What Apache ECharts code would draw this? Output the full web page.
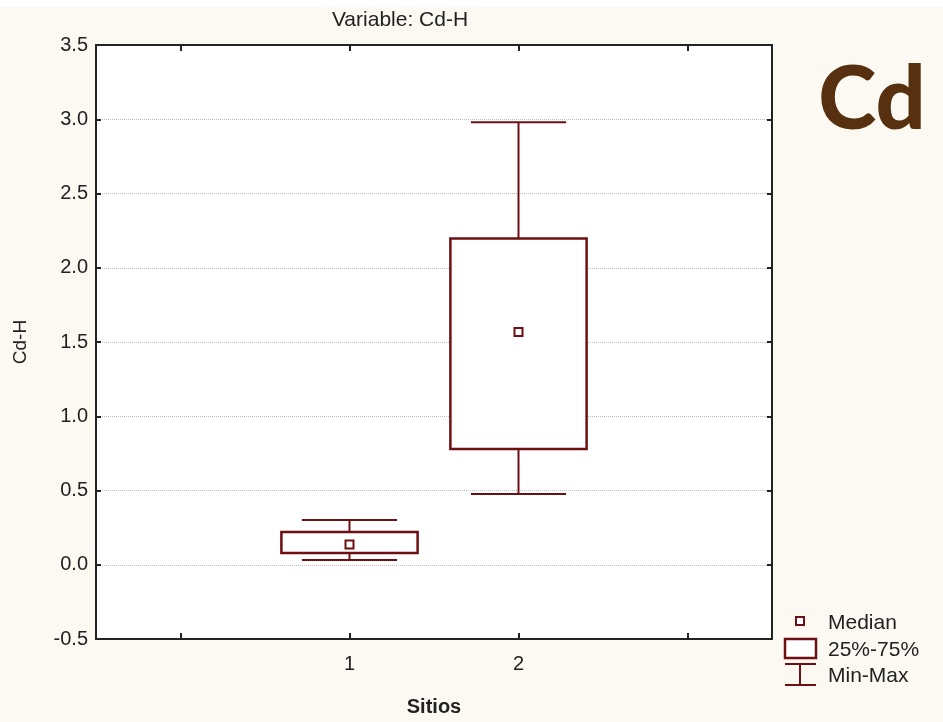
<!DOCTYPE html>
<html><head><meta charset="utf-8">
<script src="https://cdn.jsdelivr.net/npm/echarts@6/dist/echarts.min.js"></script>
<style>html,body{margin:0;padding:0;background:#fcf9f2}#c{width:943px;height:722px}</style>
</head><body><div id="c"></div>
<script>
// Categories on the x axis (outer empty slots pad the axis as in the original)
const categories = ['', '1', '2', ''];
const sites = ['1', '2'];
// Box-plot statistics per site (Cd-H)
const minVals = [0.032, 0.476];
const q1Vals = [0.079, 0.779];
const medianVals = [0.136, 1.567];
const q3Vals = [0.221, 2.197];
const maxVals = [0.301, 2.98];
// Y axis
const yMin = -0.5, yMax = 3.5, yStep = 0.5;

const C = '#6e0f14';
const FONT = 'Liberation Sans, Arial, sans-serif';

const boxData = sites.map((s, i) => [categories.indexOf(s), minVals[i], q1Vals[i], medianVals[i], q3Vals[i], maxVals[i]]);

function renderItem(params, api) {
  const x = api.value(0);
  const pMin = api.coord([x, api.value(1)]);
  const pQ1 = api.coord([x, api.value(2)]);
  const pMed = api.coord([x, api.value(3)]);
  const pQ3 = api.coord([x, api.value(4)]);
  const pMax = api.coord([x, api.value(5)]);
  const band = api.size([1, 0])[0];
  const bw = band * 0.806, cw = band * 0.563;
  const cx = pMin[0];
  const ls = {stroke: C, lineWidth: 2, fill: null};
  return {type: 'group', children: [
    {type: 'line', shape: {x1: cx, y1: pQ1[1], x2: cx, y2: pMin[1]}, style: ls},
    {type: 'line', shape: {x1: cx, y1: pQ3[1], x2: cx, y2: pMax[1]}, style: ls},
    {type: 'line', shape: {x1: cx - cw / 2, y1: pMin[1], x2: cx + cw / 2, y2: pMin[1]}, style: ls},
    {type: 'line', shape: {x1: cx - cw / 2, y1: pMax[1], x2: cx + cw / 2, y2: pMax[1]}, style: ls},
    {type: 'rect', shape: {x: cx - bw / 2, y: pQ3[1], width: bw, height: pQ1[1] - pQ3[1]}, style: {stroke: C, lineWidth: 2.5, fill: '#fff'}},
    {type: 'rect', shape: {x: cx - 4, y: pMed[1] - 4, width: 8, height: 8}, style: {stroke: C, lineWidth: 2, fill: '#fff'}}
  ]};
}

const axisLine = {show: true, onZero: false, lineStyle: {color: '#222', width: 2}};
const tickIn = {show: true, inside: true, alignWithLabel: true, length: 6, lineStyle: {color: '#222', width: 2}};

const chart = echarts.init(document.getElementById('c'));
chart.setOption({
  backgroundColor: '#fcf9f2',
  animation: false,
  grid: {left: 96, top: 45, right: 171, bottom: 83, show: true, backgroundColor: '#fff', borderWidth: 0},
  xAxis: [
    {type: 'category', data: categories, position: 'bottom', boundaryGap: true,
     axisLine: axisLine, axisTick: tickIn,
     axisLabel: {interval: 0, fontSize: 20, color: '#222', margin: 15, fontFamily: FONT},
     name: 'Sitios', nameLocation: 'middle', nameGap: 58,
     nameTextStyle: {fontWeight: 'bold', fontSize: 20, color: '#222', fontFamily: FONT},
     splitLine: {show: false}},
    {type: 'category', data: categories, position: 'top', boundaryGap: true,
     axisLine: axisLine, axisTick: tickIn, axisLabel: {show: false}, splitLine: {show: false}}
  ],
  yAxis: [
    {type: 'value', min: yMin, max: yMax, interval: yStep, position: 'left',
     axisLine: axisLine, axisTick: {show: true, inside: true, length: 5, lineStyle: {color: '#222', width: 2}},
     axisLabel: {fontSize: 20, color: '#222', margin: 8, fontFamily: FONT, formatter: v => v.toFixed(1)},
     splitLine: {show: true, lineStyle: {color: '#bbb', type: 'dotted', width: 1}},
     name: 'Cd-H', nameLocation: 'middle', nameGap: 66, nameRotate: 90,
     nameTextStyle: {fontSize: 19, color: '#222', fontFamily: FONT}},
    {type: 'value', min: yMin, max: yMax, interval: yStep, position: 'right',
     axisLine: axisLine, axisTick: {show: true, inside: true, length: 5, lineStyle: {color: '#222', width: 2}},
     axisLabel: {show: false}, splitLine: {show: false}}
  ],
  series: [{type: 'custom', renderItem: renderItem, data: boxData, xAxisIndex: 0, yAxisIndex: 0,
            encode: {x: 0, y: [1, 2, 3, 4, 5]}, clip: false, z: 5}],
  graphic: [
    {type: 'rect', left: 0, top: 0, shape: {width: 943, height: 7}, style: {fill: '#fff'}, silent: true},
    {type: 'text', x: 400, y: 20, style: {text: 'Variable: Cd-H', fontSize: 21, fill: '#222', fontFamily: FONT, align: 'center', verticalAlign: 'middle'}},
    {type: 'text', x: 872, y: 101, style: {text: 'Cd', fontSize: 88, fontWeight: 900, fill: '#56300f', fontFamily: 'Lato, sans-serif', align: 'center', verticalAlign: 'middle'}},
    // legend
    {type: 'rect', shape: {x: 796, y: 617, width: 8, height: 8}, style: {stroke: C, lineWidth: 2, fill: '#fff'}},
    {type: 'text', x: 828, y: 623, style: {text: 'Median', fontSize: 21, fill: '#222', fontFamily: FONT, verticalAlign: 'middle'}},
    {type: 'rect', shape: {x: 785, y: 639, width: 31, height: 19}, style: {stroke: C, lineWidth: 2.5, fill: '#fff'}},
    {type: 'text', x: 828, y: 650, style: {text: '25%-75%', fontSize: 21, fill: '#222', fontFamily: FONT, verticalAlign: 'middle'}},
    {type: 'line', shape: {x1: 785, y1: 664, x2: 816, y2: 664}, style: {stroke: C, lineWidth: 2}},
    {type: 'line', shape: {x1: 800, y1: 664, x2: 800, y2: 685}, style: {stroke: C, lineWidth: 2}},
    {type: 'line', shape: {x1: 785, y1: 685, x2: 816, y2: 685}, style: {stroke: C, lineWidth: 2}},
    {type: 'text', x: 828, y: 676, style: {text: 'Min-Max', fontSize: 21, fill: '#222', fontFamily: FONT, verticalAlign: 'middle'}}
  ]
});
</script></body></html>
